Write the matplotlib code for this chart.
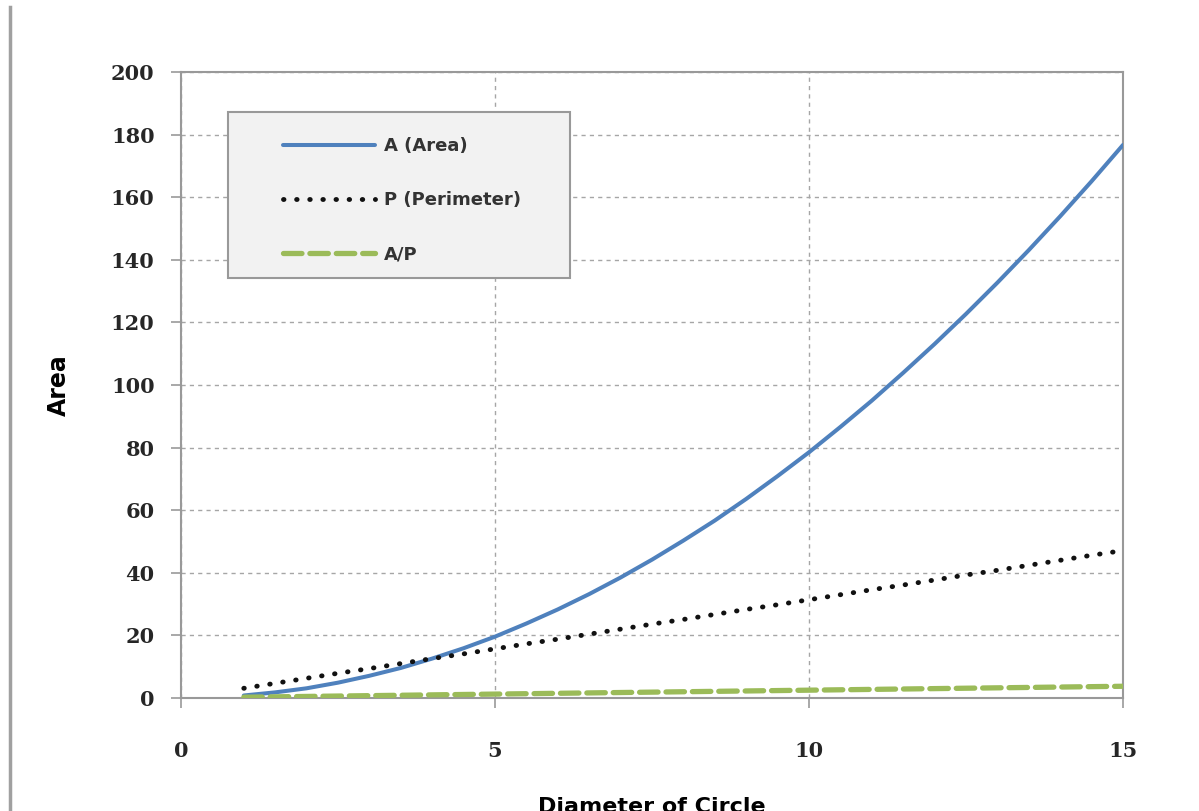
import matplotlib
matplotlib.use("Agg")
import matplotlib.pyplot as plt
from matplotlib.patches import Rectangle
from matplotlib.lines import Line2D

diameter = [1, 1.5, 2, 2.5, 3, 3.5, 4, 4.5, 5, 5.5, 6, 6.5, 7, 7.5, 8, 8.5, 9, 9.5,
            10, 10.5, 11, 11.5, 12, 12.5, 13, 13.5, 14, 14.5, 15]
area = [0.8, 1.8, 3.1, 4.9, 7.1, 9.6, 12.6, 15.9, 19.6, 23.8, 28.3, 33.2, 38.5, 44.2,
        50.3, 56.7, 63.6, 70.9, 78.5, 86.6, 95.0, 103.9, 113.1, 122.7, 132.7, 143.1,
        153.9, 165.1, 176.7]
perimeter = [3.1, 4.7, 6.3, 7.9, 9.4, 11.0, 12.6, 14.1, 15.7, 17.3, 18.8, 20.4, 22.0,
             23.6, 25.1, 26.7, 28.3, 29.8, 31.4, 33.0, 34.6, 36.1, 37.7, 39.3, 40.8,
             42.4, 44.0, 45.6, 47.1]
ratio = [0.25, 0.375, 0.5, 0.625, 0.75, 0.875, 1.0, 1.125, 1.25, 1.375, 1.5, 1.625,
         1.75, 1.875, 2.0, 2.125, 2.25, 2.375, 2.5, 2.625, 2.75, 2.875, 3.0, 3.125,
         3.25, 3.375, 3.5, 3.625, 3.75]
labels = ["A (Area)", "P (Perimeter)", "A/P"]
xticks = [0, 5, 10, 15]
yticks = [0, 20, 40, 60, 80, 100, 120, 140, 160, 180, 200]

fig = plt.figure(figsize=(11.99, 8.11), dpi=100)
fig.patch.set_facecolor("white")
ax = fig.add_axes([181/1199, 1-698/811, (1123-181)/1199, (698-72)/811])

ax.set_xlim(0, 15)
ax.set_ylim(0, 200)
ax.set_xticks(xticks)
ax.set_yticks(yticks)

ax.grid(True, axis="both", color="#a6a6a6", lw=1.0, dashes=(3, 3))
ax.set_axisbelow(True)

for s in ax.spines.values():
    s.set_color("#999999")
    s.set_linewidth(1.5)

ax.tick_params(axis="both", direction="out", length=7, width=1.2, color="#999999",
               labelcolor="#262626")
ax.tick_params(axis="x", pad=24)
ax.tick_params(axis="y", pad=12)
for lab in ax.get_xticklabels() + ax.get_yticklabels():
    lab.set_fontfamily("DejaVu Serif")
    lab.set_fontweight("bold")
    lab.set_fontsize(15)

l1, = ax.plot(diameter, area, color="#4F81BD", lw=2.9, solid_capstyle="round", zorder=3)
l2, = ax.plot(diameter, perimeter, color="#111111", lw=3.5, linestyle=(0, (0.1, 2.6)),
              dash_capstyle="round", zorder=4)
l3, = ax.plot(diameter, ratio, color="#9BBB59", lw=3.8, linestyle=(0, (3.5, 1.5)),
              dash_capstyle="round", zorder=3)

ax.set_ylabel("Area", fontsize=17, fontweight="bold")
ax.yaxis.set_label_coords(-0.117, 0.5)

fig.text(652/1199, 1-797/811, "Diameter of Circle", ha="center", va="top",
         fontsize=16, fontweight="bold")

# legend frame
rect = Rectangle(((228-181)/942, (698-278)/626), (570-228)/942, (278-112)/626,
                 transform=ax.transAxes, facecolor="#f2f2f2", edgecolor="#999999",
                 lw=1.5, zorder=5)
ax.add_patch(rect)
leg = ax.legend([l1, l2, l3], labels, loc="upper left",
                bbox_to_anchor=((283-181)/942, (698-137)/626),
                frameon=False, borderpad=0, borderaxespad=0, handlelength=5.1,
                handletextpad=0.5, labelspacing=2.0,
                prop=dict(size=13, weight="bold"))
leg.set_zorder(6)
for t in leg.get_texts():
    t.set_color("#333333")

fig.add_artist(Line2D([10/1199, 10/1199], [0, 1-7/811], transform=fig.transFigure,
                      color="#a0a0a0", lw=2.5))

fig.savefig("out.png", dpi=100)
